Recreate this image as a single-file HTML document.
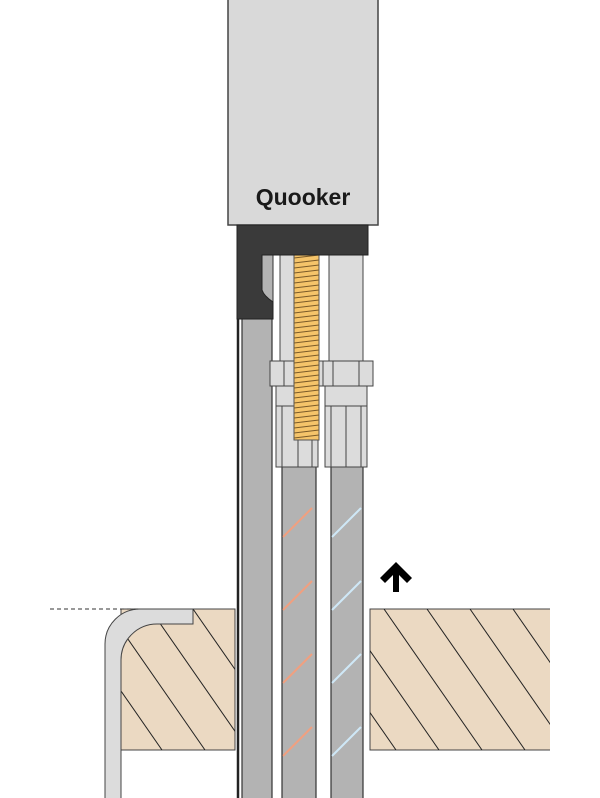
<!DOCTYPE html>
<html><head><style>html,body{margin:0;padding:0;background:#fff}svg{display:block}</style></head>
<body>
<svg width="600" height="798" viewBox="0 0 600 798" xmlns="http://www.w3.org/2000/svg">
<defs>
<clipPath id="wl"><rect x="121" y="609" width="114" height="141"/></clipPath>
<clipPath id="wr"><rect x="370" y="609" width="180" height="141"/></clipPath>
<clipPath id="rod"><rect x="294" y="255" width="25" height="185"/></clipPath>
</defs>
<rect x="228" y="-2" width="150" height="227" fill="#d9d9d9" stroke="#444" stroke-width="1.5"/>
<text x="303" y="205" font-family="Liberation Sans, sans-serif" font-size="23" font-weight="bold" text-anchor="middle" fill="#1a1a1a">Quooker</text>
<line x1="238" y1="300" x2="238" y2="798" stroke="#222" stroke-width="2.5"/>
<rect x="242" y="300" width="30" height="500" fill="#b3b3b3" stroke="#333" stroke-width="1.2"/>
<rect x="262" y="255" width="11" height="50" fill="#b3b3b3" stroke="#333" stroke-width="1"/>
<rect x="280" y="255" width="39" height="110" fill="#dcdcdc" stroke="#444" stroke-width="1"/>
<rect x="329" y="255" width="34" height="110" fill="#dcdcdc" stroke="#444" stroke-width="1"/>
<rect x="282" y="466" width="34" height="340" fill="#b3b3b3" stroke="#333" stroke-width="1.2"/>
<rect x="331" y="466" width="32" height="340" fill="#b3b3b3" stroke="#333" stroke-width="1.2"/>
<g stroke="#f0a080" stroke-width="2">
<line x1="283" y1="537" x2="312" y2="508"/><line x1="283" y1="610" x2="312" y2="581"/><line x1="283" y1="683" x2="312" y2="654"/><line x1="283" y1="756" x2="312" y2="727"/>
</g>
<g stroke="#cfe8f7" stroke-width="2">
<line x1="332" y1="537" x2="361" y2="508"/><line x1="332" y1="610" x2="361" y2="581"/><line x1="332" y1="683" x2="361" y2="654"/><line x1="332" y1="756" x2="361" y2="727"/>
</g>
<g fill="#dcdcdc" stroke="#444" stroke-width="1">
<rect x="276" y="386" width="42" height="81"/>
<rect x="325" y="386" width="42" height="81"/>
<line x1="276" y1="406" x2="318" y2="406"/><line x1="325" y1="406" x2="367" y2="406"/>
<line x1="282" y1="406" x2="282" y2="467"/><line x1="298" y1="406" x2="298" y2="467"/><line x1="312" y1="406" x2="312" y2="467"/>
<line x1="331" y1="406" x2="331" y2="467"/><line x1="346" y1="406" x2="346" y2="467"/><line x1="361" y1="406" x2="361" y2="467"/>
<rect x="270" y="361" width="53" height="25"/>
<rect x="323" y="361" width="50" height="25"/>
<line x1="284" y1="361" x2="284" y2="386"/><line x1="310" y1="361" x2="310" y2="386"/>
<line x1="333" y1="361" x2="333" y2="386"/><line x1="359" y1="361" x2="359" y2="386"/>
</g>
<rect x="294" y="255" width="25" height="185" fill="#f5c46a" stroke="#555" stroke-width="1"/>
<g clip-path="url(#rod)" stroke="#7a5a28" stroke-width="1.1">
<path d="M294 258 L319 255 M294 263 L319 260 M294 268 L319 265 M294 273 L319 270 M294 278 L319 275 M294 283 L319 280 M294 288 L319 285 M294 293 L319 290 M294 298 L319 295 M294 303 L319 300 M294 308 L319 305 M294 313 L319 310 M294 318 L319 315 M294 323 L319 320 M294 328 L319 325 M294 333 L319 330 M294 338 L319 335 M294 343 L319 340 M294 348 L319 345 M294 353 L319 350 M294 358 L319 355 M294 363 L319 360 M294 368 L319 365 M294 373 L319 370 M294 378 L319 375 M294 383 L319 380 M294 388 L319 385 M294 393 L319 390 M294 398 L319 395 M294 403 L319 400 M294 408 L319 405 M294 413 L319 410 M294 418 L319 415 M294 423 L319 420 M294 428 L319 425 M294 433 L319 430 M294 438 L319 435 M294 443 L319 440"/>
</g>
<path d="M237 225 H368 V255 H262 V290 Q264 296 273 302 V319 H237 Z" fill="#3a3a3a" stroke="#222" stroke-width="1"/>
<rect x="121" y="609" width="114" height="141" fill="#ebd9c2" stroke="#444" stroke-width="1"/>
<g clip-path="url(#wl)" stroke="#222" stroke-width="1">
<line x1="193" y1="609" x2="291" y2="750"/><line x1="150" y1="609" x2="248" y2="750"/><line x1="107" y1="609" x2="205" y2="750"/><line x1="64" y1="609" x2="162" y2="750"/><line x1="236" y1="609" x2="334" y2="750"/>
</g>
<path d="M193 609 H140 A35 35 0 0 0 105 644 V800 H121 V660 A36 36 0 0 1 157 624 H193 Z" fill="#dcdcdc" stroke="#444" stroke-width="1"/>
<line x1="50" y1="609" x2="140" y2="609" stroke="#333" stroke-width="1" stroke-dasharray="4,3"/>
<rect x="370" y="609" width="180" height="141" fill="#ebd9c2"/>
<path d="M550 609 H370 V750 H550" fill="none" stroke="#444" stroke-width="1"/>
<g clip-path="url(#wr)" stroke="#222" stroke-width="1">
<line x1="384" y1="609" x2="482" y2="750"/><line x1="427" y1="609" x2="525" y2="750"/><line x1="470" y1="609" x2="568" y2="750"/><line x1="513" y1="609" x2="611" y2="750"/><line x1="341" y1="609" x2="439" y2="750"/><line x1="298" y1="609" x2="396" y2="750"/>
</g>
<path d="M396 562 L380 578 L385 583 L393 575 V592 H399 V575 L407 583 L412 578 Z" fill="#000"/>
</svg>
</body></html>
